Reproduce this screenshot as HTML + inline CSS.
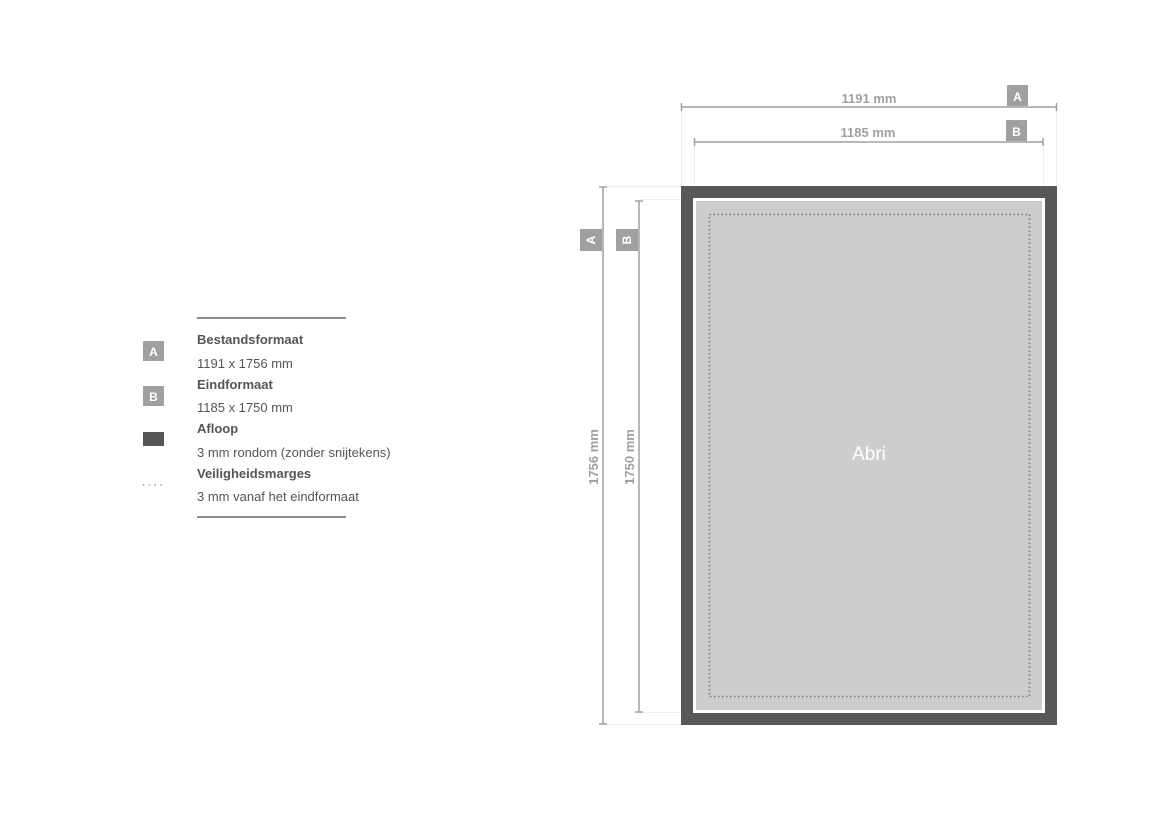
<!DOCTYPE html>
<html><head><meta charset="utf-8"><style>
body{margin:0;width:1169px;height:827px;background:#fff;position:relative;overflow:hidden;font-family:"Liberation Sans",sans-serif}
.a{position:absolute}
</style></head><body>
<svg class="a" style="left:0;top:0" width="1169" height="827">
<g font-family="Liberation Sans, sans-serif">
<line x1="197" y1="318" x2="346" y2="318" stroke="#666" stroke-width="1.5"/>
<line x1="197" y1="517" x2="346" y2="517" stroke="#666" stroke-width="1.5"/>
<rect x="143" y="341" width="21" height="20" fill="#a0a0a0"/>
<text x="153.5" y="356" font-size="12" font-weight="bold" fill="#fff" text-anchor="middle">A</text>
<rect x="143" y="386" width="21" height="20" fill="#a0a0a0"/>
<text x="153.5" y="401" font-size="12" font-weight="bold" fill="#fff" text-anchor="middle">B</text>
<rect x="143" y="432" width="21" height="14" fill="#555"/>
<line x1="143" y1="485" x2="165" y2="485" stroke="#777" stroke-width="1.3" stroke-dasharray="1.3,4.5"/>
<g font-size="13" fill="#555">
<text x="197" y="344" font-weight="bold">Bestandsformaat</text>
<text x="197" y="368">1191 x 1756 mm</text>
<text x="197" y="389" font-weight="bold">Eindformaat</text>
<text x="197" y="412">1185 x 1750 mm</text>
<text x="197" y="433" font-weight="bold">Afloop</text>
<text x="197" y="457">3 mm rondom (zonder snijtekens)</text>
<text x="197" y="478" font-weight="bold">Veiligheidsmarges</text>
<text x="197" y="501">3 mm vanaf het eindformaat</text>
</g>
<g stroke="#eee" stroke-width="1">
<line x1="681.5" y1="107" x2="681.5" y2="186"/>
<line x1="1056.5" y1="107" x2="1056.5" y2="186"/>
<line x1="694.5" y1="142" x2="694.5" y2="198"/>
<line x1="1043.5" y1="142" x2="1043.5" y2="198"/>
<line x1="603" y1="186.5" x2="681" y2="186.5"/>
<line x1="603" y1="724.5" x2="681" y2="724.5"/>
<line x1="639" y1="199.5" x2="694" y2="199.5"/>
<line x1="639" y1="712.5" x2="694" y2="712.5"/>
</g>
<g stroke="#a0a0a0" stroke-width="1.5">
<line x1="681" y1="107" x2="1057" y2="107"/>
<line x1="681.5" y1="103" x2="681.5" y2="111"/><line x1="1056.5" y1="103" x2="1056.5" y2="111"/>
<line x1="694" y1="142" x2="1043" y2="142"/>
<line x1="694.5" y1="138" x2="694.5" y2="146"/><line x1="1043" y1="138" x2="1043" y2="146"/>
<line x1="603" y1="187" x2="603" y2="724"/>
<line x1="599" y1="187" x2="607" y2="187"/><line x1="599" y1="724" x2="607" y2="724"/>
<line x1="639" y1="201" x2="639" y2="712"/>
<line x1="635" y1="201" x2="643" y2="201"/><line x1="635" y1="712" x2="643" y2="712"/>
</g>
<g font-size="13" font-weight="bold" fill="#a0a0a0">
<text x="869" y="103" text-anchor="middle">1191 mm</text>
<text x="868" y="137" text-anchor="middle">1185 mm</text>
<text transform="translate(598,457) rotate(-90)" text-anchor="middle">1756 mm</text>
<text transform="translate(634,457) rotate(-90)" text-anchor="middle">1750 mm</text>
</g>
<rect x="1007" y="85" width="21" height="21" fill="#a0a0a0"/>
<text x="1017.5" y="101" font-size="12" font-weight="bold" fill="#fff" text-anchor="middle">A</text>
<rect x="1006" y="120" width="21" height="21" fill="#a0a0a0"/>
<text x="1016.5" y="136" font-size="12" font-weight="bold" fill="#fff" text-anchor="middle">B</text>
<rect x="580" y="229" width="22" height="22" fill="#a0a0a0"/>
<text transform="translate(595,240) rotate(-90)" font-size="12" font-weight="bold" fill="#fff" text-anchor="middle">A</text>
<rect x="616" y="229" width="22" height="22" fill="#a0a0a0"/>
<text transform="translate(631,240) rotate(-90)" font-size="12" font-weight="bold" fill="#fff" text-anchor="middle">B</text>
<rect x="681" y="186" width="376" height="539" fill="#585856"/>
<rect x="693" y="198" width="352" height="515" fill="#fff"/>
<rect x="696" y="201" width="346" height="509" fill="#cdcdcd"/>
<rect x="709.5" y="214.5" width="320" height="482" fill="none" stroke="#7a7a7a" stroke-width="1.6" stroke-dasharray="1.6,2.4"/>
<text x="869" y="460" font-size="19" fill="#fff" text-anchor="middle">Abri</text>
</g>
</svg>
</body></html>
